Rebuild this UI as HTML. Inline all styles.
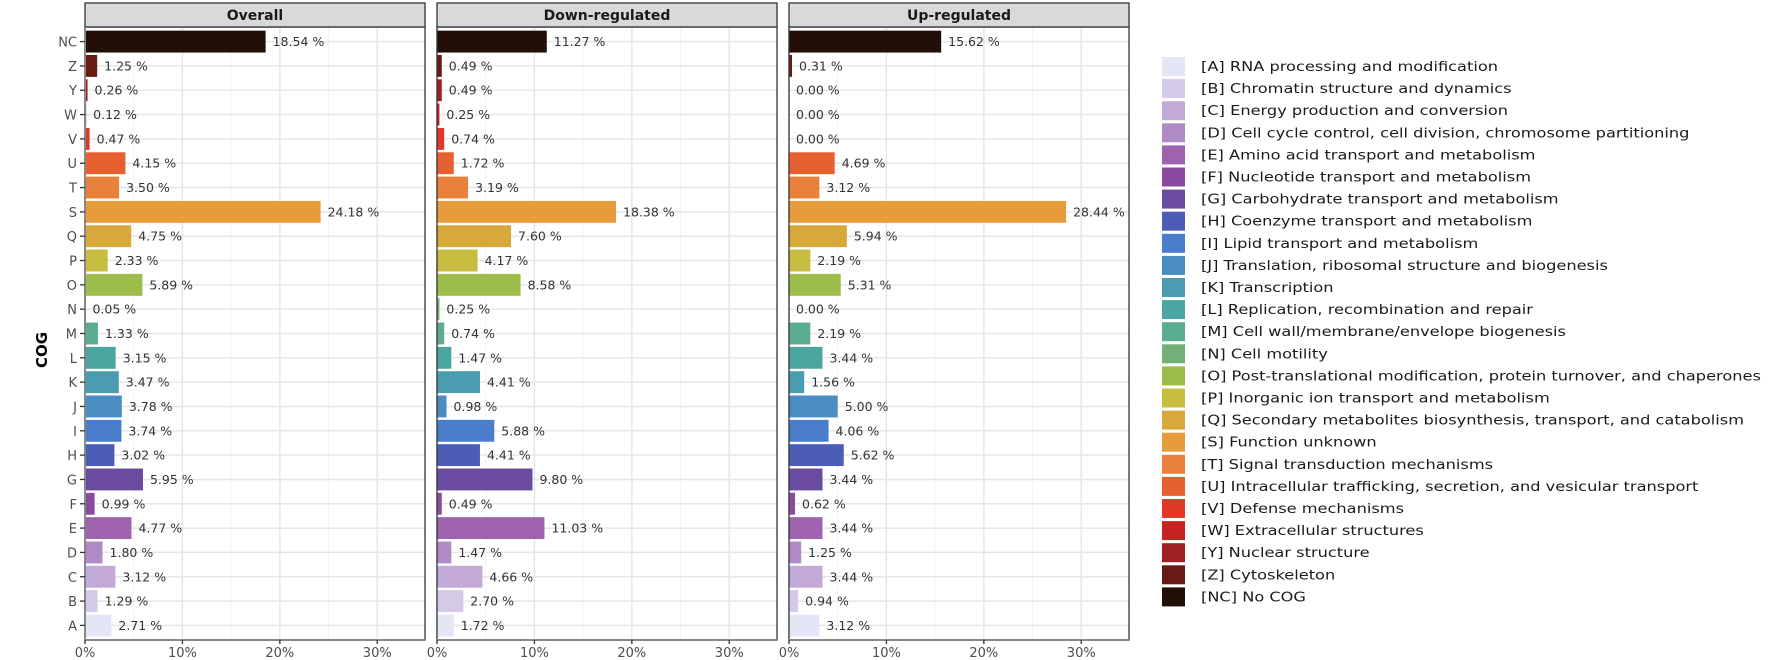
<!DOCTYPE html>
<html><head><meta charset="utf-8"><style>
html,body{margin:0;padding:0;background:#fff;}
svg{display:block;font-family:"DejaVu Sans","Liberation Sans",sans-serif;}
</style></head><body>
<svg id="chart" width="1772" height="660" viewBox="0 0 1772 660"></svg>
<script>
const categories=["A","B","C","D","E","F","G","H","I","J","K","L","M","N","O","P","Q","S","T","U","V","W","Y","Z","NC"];
const overallValues=[2.71,1.29,3.12,1.80,4.77,0.99,5.95,3.02,3.74,3.78,3.47,3.15,1.33,0.05,5.89,2.33,4.75,24.18,3.50,4.15,0.47,0.12,0.26,1.25,18.54];
const downValues=[1.72,2.70,4.66,1.47,11.03,0.49,9.80,4.41,5.88,0.98,4.41,1.47,0.74,0.25,8.58,4.17,7.60,18.38,3.19,1.72,0.74,0.25,0.49,0.49,11.27];
const upValues=[3.12,0.94,3.44,1.25,3.44,0.62,3.44,5.62,4.06,5.00,1.56,3.44,2.19,0.00,5.31,2.19,5.94,28.44,3.12,4.69,0.00,0.00,0.00,0.31,15.62];
const panelTitles=["Overall","Down-regulated","Up-regulated"];
const xTicks=[0,10,20,30];
const xTickLabels=["0%","10%","20%","30%"];
const legendLabels=["[A] RNA processing and modification","[B] Chromatin structure and dynamics","[C] Energy production and conversion","[D] Cell cycle control, cell division, chromosome partitioning","[E] Amino acid transport and metabolism","[F] Nucleotide transport and metabolism","[G] Carbohydrate transport and metabolism","[H] Coenzyme transport and metabolism","[I] Lipid transport and metabolism","[J] Translation, ribosomal structure and biogenesis","[K] Transcription","[L] Replication, recombination and repair","[M] Cell wall/membrane/envelope biogenesis","[N] Cell motility","[O] Post-translational modification, protein turnover, and chaperones","[P] Inorganic ion transport and metabolism","[Q] Secondary metabolites biosynthesis, transport, and catabolism","[S] Function unknown","[T] Signal transduction mechanisms","[U] Intracellular trafficking, secretion, and vesicular transport","[V] Defense mechanisms","[W] Extracellular structures","[Y] Nuclear structure","[Z] Cytoskeleton","[NC] No COG"];
const colors=["#e4e6f8","#d4c9e6","#c3a9d5","#b08ac5","#9f62af","#894a9f","#6a4b9f","#4b5db6","#4a7dcc","#4a8dc1","#4a9db1","#4ba5a0","#5bad8f","#71b179","#9dbd4b","#c6bd41","#d6a93a","#e89b3a","#e8813a","#e66030","#df3827","#c72121","#9f2020","#6a1a15","#221008"];
const series=[overallValues,downValues,upValues];
const panelsX=[85,437,789], panelW=340, plotTop=27, plotBottom=640, xMax=34.9;
const svg=document.getElementById('chart');
const NS='http://www.w3.org/2000/svg';
function mk(tag,attrs,parent){const e=document.createElementNS(NS,tag);for(const k in attrs)e.setAttribute(k,attrs[k]);(parent||svg).appendChild(e);return e;}
const step=(plotBottom-plotTop)/(categories.length+0.2);
function yPos(i){return plotBottom-step*(0.6+i);}
function xScale(p,v){return panelsX[p]+v/xMax*panelW;}
for(let p=0;p<3;p++){
  const g=mk('g',{});
  
  
  const x0=panelsX[p];
  mk('rect',{x:x0,y:plotTop,width:panelW,height:plotBottom-plotTop,fill:'#fff'},g);
  [5,15,25].forEach(v=>mk('line',{x1:xScale(p,v),x2:xScale(p,v),y1:plotTop,y2:plotBottom,stroke:'#f3f3f3','stroke-width':1},g));
  xTicks.forEach(v=>mk('line',{x1:xScale(p,v),x2:xScale(p,v),y1:plotTop,y2:plotBottom,stroke:'#e6e6e6','stroke-width':1.5},g));
  categories.forEach((c,i)=>mk('line',{x1:x0,x2:x0+panelW,y1:yPos(i),y2:yPos(i),stroke:'#e6e6e6','stroke-width':1.5},g));
  series[p].forEach((v,i)=>{
    const bh=step*0.9;
    const r=mk('rect',{x:x0,y:yPos(i)-bh/2,width:Math.max(0,xScale(p,v)-x0),height:bh,fill:colors[i]},g);
    
    
    const t=mk('text',{x:xScale(p,v)+7,y:yPos(i)+4.5,'font-size':12.5,fill:'#333'},g);
    t.textContent=v.toFixed(2)+' %';
    
    
  });
  mk('rect',{x:x0,y:plotTop,width:panelW,height:plotBottom-plotTop,fill:'none',stroke:'#333','stroke-width':1.3},g);
  const s=mk('rect',{x:x0,y:3,width:panelW,height:plotTop-3,fill:'#d9d9d9',stroke:'#333','stroke-width':1.3},g);
  
  
  const st=mk('text',{x:x0+panelW/2,y:20,'text-anchor':'middle','font-size':14,'font-weight':'bold',fill:'#1a1a1a'},g);
  st.textContent=panelTitles[p];
  
  
  mk('line',{x1:x0,x2:x0+panelW,y1:plotBottom,y2:plotBottom,stroke:'#888','stroke-width':2},g);
  xTicks.forEach((v,k)=>{
    mk('line',{x1:xScale(p,v),x2:xScale(p,v),y1:plotBottom,y2:plotBottom+4,stroke:'#333','stroke-width':1.3},g);
    const tl=mk('text',{x:xScale(p,v),y:plotBottom+17,'text-anchor':'middle','font-size':13,fill:'#4d4d4d'},g);
    tl.textContent=xTickLabels[k];
    
    
  });
}
mk('line',{x1:85,x2:85,y1:plotTop,y2:plotBottom,stroke:'#888','stroke-width':2});
categories.forEach((c,i)=>{
  mk('line',{x1:80,x2:85,y1:yPos(i),y2:yPos(i),stroke:'#333','stroke-width':1.3});
  const t=mk('text',{x:77,y:yPos(i)+5,'text-anchor':'end','font-size':13,fill:'#4d4d4d'});
  t.textContent=c;
  
  
});
const yt=mk('text',{x:0,y:0,transform:'translate(47,350) rotate(-90)','text-anchor':'middle','font-size':15,'font-weight':'bold',fill:'#000'});
yt.textContent='COG';


const lg=mk('g',{});


legendLabels.forEach((l,i)=>{
  const cy=66+i*22.1;
  const sw=mk('rect',{x:1162,y:cy-9,width:23,height:19,fill:colors[i]},lg);
  
  
  const t=mk('text',{x:0,y:0,transform:'translate(1201,'+(cy+5)+') scale(1.2,1)','font-size':13.5,fill:'#1a1a1a'},lg);
  t.textContent=l;
  
  
});
</script>
</body></html>
